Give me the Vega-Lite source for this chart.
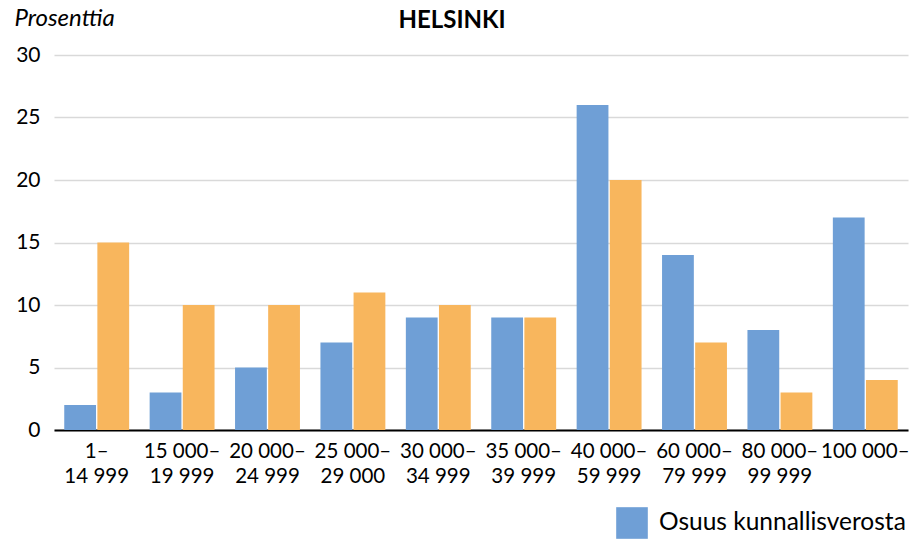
{
  "$schema": "https://vega.github.io/schema/vega-lite/v6.json",
  "width": 854,
  "height": 375,
  "autosize": "none",
  "padding": {"left": 54, "top": 55, "right": 4, "bottom": 111},
  "background": "white",
  "config": {"font": "Lato", "view": {"stroke": null}},
  "title": {"text": "HELSINKI", "fontSize": 24, "fontWeight": "bold", "font": "Lato", "color": "#000000", "anchor": "middle", "dx": -29, "offset": -27},
  "data": {"values": [
    {"luokka": "1–14 999", "sarja": "Osuus kunnallisverosta", "arvo": 2},
    {"luokka": "1–14 999", "sarja": "Osuus tulonsaajista", "arvo": 15},
    {"luokka": "15 000–19 999", "sarja": "Osuus kunnallisverosta", "arvo": 3},
    {"luokka": "15 000–19 999", "sarja": "Osuus tulonsaajista", "arvo": 10},
    {"luokka": "20 000–24 999", "sarja": "Osuus kunnallisverosta", "arvo": 5},
    {"luokka": "20 000–24 999", "sarja": "Osuus tulonsaajista", "arvo": 10},
    {"luokka": "25 000–29 000", "sarja": "Osuus kunnallisverosta", "arvo": 7},
    {"luokka": "25 000–29 000", "sarja": "Osuus tulonsaajista", "arvo": 11},
    {"luokka": "30 000–34 999", "sarja": "Osuus kunnallisverosta", "arvo": 9},
    {"luokka": "30 000–34 999", "sarja": "Osuus tulonsaajista", "arvo": 10},
    {"luokka": "35 000–39 999", "sarja": "Osuus kunnallisverosta", "arvo": 9},
    {"luokka": "35 000–39 999", "sarja": "Osuus tulonsaajista", "arvo": 9},
    {"luokka": "40 000–59 999", "sarja": "Osuus kunnallisverosta", "arvo": 26},
    {"luokka": "40 000–59 999", "sarja": "Osuus tulonsaajista", "arvo": 20},
    {"luokka": "60 000–79 999", "sarja": "Osuus kunnallisverosta", "arvo": 14},
    {"luokka": "60 000–79 999", "sarja": "Osuus tulonsaajista", "arvo": 7},
    {"luokka": "80 000–99 999", "sarja": "Osuus kunnallisverosta", "arvo": 8},
    {"luokka": "80 000–99 999", "sarja": "Osuus tulonsaajista", "arvo": 3},
    {"luokka": "100 000–", "sarja": "Osuus kunnallisverosta", "arvo": 17},
    {"luokka": "100 000–", "sarja": "Osuus tulonsaajista", "arvo": 4}
  ]},
  "mark": {"type": "bar"},
  "encoding": {
    "x": {
      "field": "luokka", "type": "nominal", "sort": null,
      "scale": {"paddingInner": 0.24, "paddingOuter": 0.12},
      "axis": {
        "title": null, "labelAngle": 0, "ticks": false,
        "domainColor": "#000000", "domainWidth": 2,
        "labelFontSize": 20.5, "labelColor": "#000000", "labelPadding": 11,
        "labelLineHeight": 25, "labelBaseline": "top",
        "labelExpr": "[slice(datum.value, 0, indexof(datum.value, '–') + 1), slice(datum.value, indexof(datum.value, '–') + 1)]"
      }
    },
    "xOffset": {"field": "sarja", "type": "nominal", "scale": {"paddingInner": 0.04}},
    "y": {
      "field": "arvo", "type": "quantitative",
      "scale": {"domain": [0, 30]},
      "axis": {
        "values": [0, 5, 10, 15, 20, 25, 30],
        "domain": false, "ticks": false,
        "gridColor": "#d9d9d9", "gridWidth": 1.5,
        "labelFontSize": 21, "labelColor": "#000000", "labelPadding": 14,
        "title": "Prosenttia", "titleAngle": 0, "titleFontStyle": "italic",
        "titleFontWeight": "normal", "titleFontSize": 24, "titleColor": "#000000",
        "titleAlign": "left", "titleBaseline": "alphabetic",
        "titleX": -40, "titleY": -30
      }
    },
    "color": {
      "field": "sarja", "type": "nominal",
      "scale": {"domain": ["Osuus kunnallisverosta", "Osuus tulonsaajista"], "range": ["#6f9fd6", "#f8b65d"]},
      "legend": {
        "values": ["Osuus kunnallisverosta"],
        "title": null, "orient": "none", "legendX": 562, "legendY": 452,
        "symbolType": "square", "symbolSize": 1000, "symbolStrokeWidth": 0,
        "labelFontSize": 24.5, "labelColor": "#000000", "labelOffset": 11, "labelLimit": 0
      }
    }
  }
}
